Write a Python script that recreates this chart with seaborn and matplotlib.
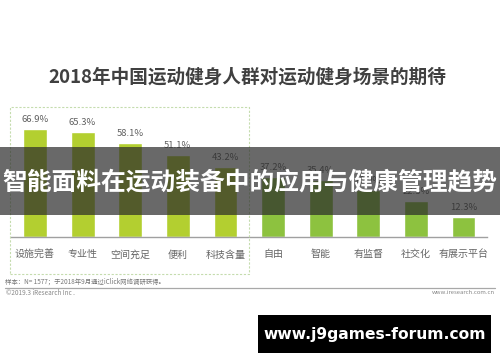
import matplotlib
matplotlib.use("Agg")
import matplotlib.pyplot as plt
import seaborn as sns
import pandas as pd
from matplotlib.patches import Rectangle

sns.set_theme(style="white")
plt.rcParams['font.family'] = ['Noto Sans CJK SC', 'DejaVu Sans']

categories = ["设施完善", "专业性", "空间充足", "便利", "科技含量", "自由", "智能", "有监督", "社交化", "有展示平台"]
values = [66.9, 65.3, 58.1, 51.1, 43.2, 37.2, 35.4, 28.9, 22.3, 12.3]
groups = ["A"] * 5 + ["B"] * 5
title = "2018年中国运动健身人群对运动健身场景的期待"
banner = "智能面料在运动装备中的应用与健康管理趋势"
watermark = "www.j9games-forum.com"
note = "样本：N= 1577；于2018年9月通过iClick网络调研获得。"
copyright_txt = "©2019.3 iResearch Inc ."
site = "www.iresearch.com.cn"

df = pd.DataFrame({"cat": categories, "val": values, "grp": groups})

W, H = 500, 362
fig = plt.figure(figsize=(W / 100, H / 100), dpi=100)
fig.patch.set_facecolor("white")

def fx(px):
    return px / W

def fy(py):
    return 1 - py / H

ax = fig.add_axes([fx(11.2), fy(237), fx(476), (237 - 107) / H])
sns.barplot(data=df, x="cat", y="val", hue="grp", palette={"A": "#b3cf30", "B": "#8dc23f"},
            dodge=False, width=0.5, legend=False, ax=ax, saturation=1)
ax.set_xlim(-0.5, 9.5)
ax.set_ylim(0, 130 / 1.61)
ax.set_xlabel("")
ax.set_ylabel("")
ax.set_yticks([])
for s in ["top", "left", "right"]:
    ax.spines[s].set_visible(False)
ax.spines["bottom"].set_color("#a0a0a0")
ax.spines["bottom"].set_linewidth(1.0)
ax.tick_params(axis="x", length=0, pad=9, labelsize=7.2, labelcolor="#666666")
ax.set_facecolor("none")

for i, v in enumerate(values):
    ax.text(i, v + 3.2, f"{v}%", ha="center", va="bottom", fontsize=6.8, color="#606060")

fig.add_artist(Rectangle((fx(10), fy(274)), fx(239), (274 - 107) / H, fill=False,
                         edgecolor="#c5dcae", linestyle=(0, (2, 1.5)), linewidth=0.8,
                         transform=fig.transFigure, zorder=2))

fig.text(0.495, fy(77), title, ha="center", va="center", fontsize=13.4, fontweight="bold", color="#404040")

fig.text(fx(5), fy(282), note, ha="left", va="center", fontsize=4.6, color="#777777")
fig.add_artist(plt.Line2D([fx(5), fx(495)], [fy(287.5), fy(287.5)], color="#a8a8a8", linewidth=0.9,
                          transform=fig.transFigure))
fig.text(fx(6), fy(293), copyright_txt, ha="left", va="center", fontsize=4.6, color="#888888")
fig.text(fx(495), fy(293), site, ha="right", va="center", fontsize=4.3, color="#888888")

fig.add_artist(Rectangle((0, fy(215)), 1, (215 - 147) / H, facecolor="#2a2a2a", alpha=0.7,
                         edgecolor="none", transform=fig.transFigure, zorder=10))
fig.text(0.5, fy(182), banner, ha="center", va="center", fontsize=17.8, fontweight="bold",
         color="white", zorder=11)

fig.add_artist(Rectangle((fx(258), fy(353)), fx(233), (353 - 315) / H, facecolor="black",
                         edgecolor="none", transform=fig.transFigure, zorder=10))
fig.text(fx(374.5), fy(334), watermark, ha="center", va="center", fontsize=11.2, fontweight="bold",
         color="white", zorder=11, family=["DejaVu Sans"])

fig.savefig("out.png", dpi=100)
